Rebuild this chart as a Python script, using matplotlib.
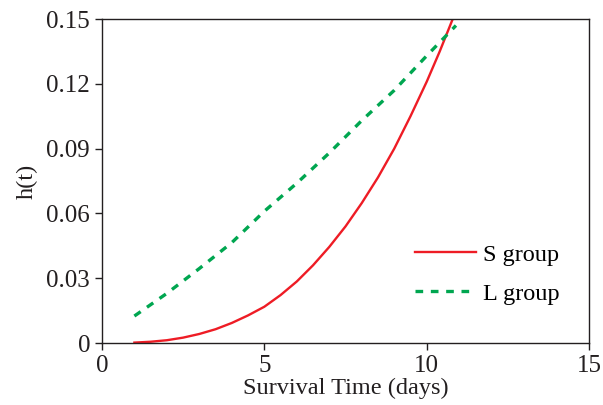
import matplotlib
matplotlib.use("Agg")
import matplotlib.pyplot as plt

plt.rcParams['font.family'] = ['Liberation Serif', 'DejaVu Serif']

t_s = [1, 1.5, 2, 2.5, 3, 3.5, 4, 4.5, 5, 5.5, 6, 6.5, 7, 7.5, 8, 8.5, 9, 9.5, 10, 10.4, 10.8]
h_s = [0.0002, 0.0006, 0.0013, 0.0025, 0.0042, 0.0064, 0.0093, 0.0128, 0.0168, 0.0222, 0.0285,
       0.036, 0.0445, 0.054, 0.0648, 0.0767, 0.090, 0.105, 0.121, 0.135, 0.150]

t_l = [1, 2, 3, 4, 5, 6, 7, 8, 9, 10, 10.9]
h_l = [0.0125, 0.023, 0.0345, 0.0465, 0.061, 0.074, 0.088, 0.103, 0.117, 0.133, 0.147]

xticks = [0, 5, 10, 15]
yticks = [0, 0.03, 0.06, 0.09, 0.12, 0.15]
ytick_labels = ["0", "0.03", "0.06", "0.09", "0.12", "0.15"]

fig = plt.figure(figsize=(6.03, 4.05), dpi=100)
ax = fig.add_axes([0.169, 0.153, 0.808, 0.800])

ax.plot(t_s, h_s, color='#ee1c25', lw=1.7, label='S group')
ax.plot(t_l, h_l, color='#00a650', lw=2.4, ls=(0, (2.3, 2.3)), label='L group')

ax.set_xlim(0, 15)
ax.set_ylim(0, 0.15)
ax.set_xticks(xticks)
ax.set_yticks(yticks)
ax.set_yticklabels(ytick_labels)
ax.tick_params(direction='out', length=5, width=1, labelsize=18, colors='#231f20')
for s in ax.spines.values():
    s.set_linewidth(1)
    s.set_color('#231f20')

ax.set_xlabel('Survival Time (days)', fontsize=17.5, color='#231f20', labelpad=1)
ax.set_ylabel('h(t)', fontsize=17.5, color='#231f20', labelpad=6)

ax.legend(loc='lower right', bbox_to_anchor=(0.985, 0.05), frameon=False, fontsize=17.5,
          handlelength=2.5, handletextpad=0.3, labelspacing=0.7)

fig.savefig('out.png', dpi=100)
